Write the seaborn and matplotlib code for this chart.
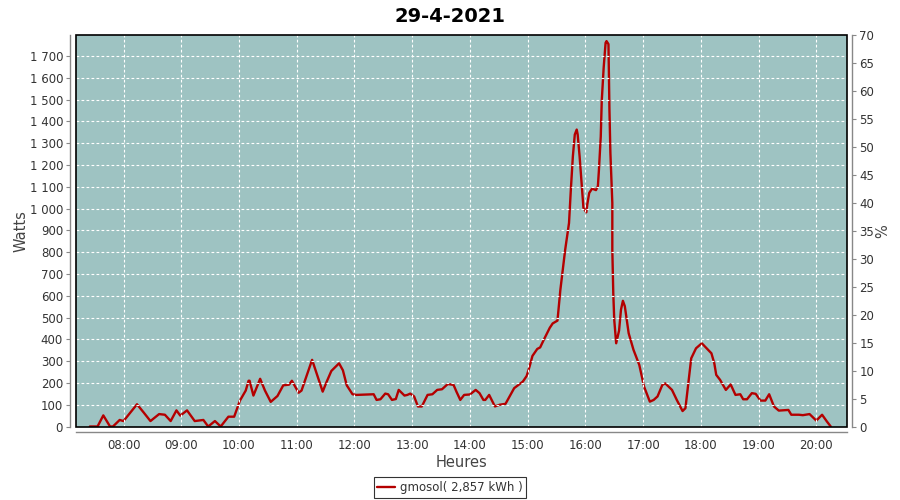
import pandas as pd
import matplotlib
matplotlib.use("Agg")
import matplotlib.pyplot as plt
from matplotlib.patches import Rectangle
import seaborn as sns

# production readings of the day (time, watts)
times = [
    "07:25", "07:33", "07:39", "07:46", "07:49", "07:56", "08:00", "08:14", "08:21", "08:28",
    "08:37", "08:43", "08:49", "08:55", "08:59", "09:06", "09:14", "09:23", "09:28", "09:35",
    "09:41", "09:49", "09:55", "10:01", "10:07", "10:10", "10:11", "10:15", "10:22", "10:27",
    "10:33", "10:40", "10:46", "10:52", "10:55", "11:02", "11:05", "11:16", "11:27", "11:31",
    "11:36", "11:44", "11:48", "11:52", "11:58", "12:02", "12:20", "12:23", "12:27", "12:32",
    "12:35", "12:39", "12:43", "12:46", "12:52", "12:55", "12:58", "13:02", "13:06", "13:10",
    "13:16", "13:21", "13:26", "13:31", "13:37", "13:43", "13:46", "13:50", "13:54", "14:00",
    "14:06", "14:10", "14:14", "14:16", "14:20", "14:26", "14:31", "14:37", "14:46", "14:55",
    "14:59", "15:02", "15:05", "15:10", "15:13", "15:17", "15:23", "15:26", "15:31", "15:34",
    "15:39", "15:43", "15:45", "15:47", "15:49", "15:51", "15:52", "15:54", "15:56", "15:58",
    "16:01", "16:02", "16:04", "16:07", "16:11", "16:13", "16:14", "16:16", "16:17", "16:19",
    "16:21", "16:22", "16:24", "16:25", "16:26", "16:28", "16:28", "16:29", "16:30", "16:32",
    "16:35", "16:37", "16:39", "16:41", "16:45", "16:50", "16:56", "17:01", "17:07", "17:11",
    "17:15", "17:20", "17:23", "17:30", "17:35", "17:41", "17:44", "17:47", "17:50", "17:55",
    "18:01", "18:06", "18:11", "18:14", "18:16", "18:20", "18:26", "18:31", "18:36", "18:41",
    "18:44", "18:48", "18:53", "18:57", "19:02", "19:07", "19:11", "19:16", "19:21", "19:31",
    "19:34", "19:42", "19:46", "19:53", "20:00", "20:06", "20:11", "20:15",
]
watts = [
    0, 0, 51, 0, 0, 30, 25, 102, 64, 25,
    57, 54, 25, 74, 50, 74, 25, 30, 0, 25,
    0, 45, 45, 119, 165, 210, 210, 142, 219, 165,
    113, 140, 189, 192, 210, 155, 165, 306, 160, 204,
    255, 290, 258, 189, 148, 145, 148, 122, 125, 151,
    148, 122, 126, 168, 142, 145, 151, 138, 92, 92,
    145, 148, 168, 171, 195, 191, 160, 122, 145, 147,
    168, 153, 122, 122, 145, 92, 100, 104, 176, 206,
    232, 275, 324, 356, 363, 400, 453, 473, 486, 627,
    811, 934, 1095, 1240, 1340, 1363, 1340, 1240, 1118, 1003,
    983, 1020, 1072, 1092, 1085, 1103, 1171, 1332, 1493, 1646,
    1761, 1769, 1755, 1455, 1256, 1026, 811, 612, 490, 382,
    440, 536, 577, 552, 428, 352, 283, 183, 114, 122,
    138, 191, 198, 168, 122, 71, 84, 198, 313, 359,
    382, 359, 336, 290, 237, 214, 168, 193, 145, 148,
    125, 125, 153, 150, 119, 119, 148, 92, 73, 76,
    54, 54, 52, 57, 27, 54, 23, 0,
]

hour_ticks = list(range(8, 21))
hour_labels = [f"{h:02d}:00" for h in hour_ticks]
watt_ticks = list(range(0, 1800, 100))
watt_labels = [f"{v:,}".replace(",", " ") for v in watt_ticks]
pct_ticks = list(range(0, 75, 5))

df = pd.DataFrame({"time": times, "watts": watts})
hm = df["time"].str.split(":", expand=True).astype(int)
df["hours"] = hm[0] + hm[1] / 60

sns.set_style("white")
plt.rcParams["font.family"] = ["DejaVu Sans"]

fig = plt.figure(figsize=(9, 5), dpi=100)
ax = fig.add_axes([0.084, 0.147, 0.857, 0.783])
ax.set_facecolor("#9ec3c2")

sns.lineplot(data=df, x="hours", y="watts", ax=ax, color="#b40000", linewidth=1.7,
             estimator=None, sort=False, label="gmosol( 2,857 kWh )", legend=False)

ax.set_xlim(7.17, 20.53)
ax.set_ylim(0, 1797)
ax.set_xticks(hour_ticks, hour_labels)
ax.set_yticks(watt_ticks, watt_labels)
ax.grid(True, color="white", linestyle=(0, (2.5, 2)), linewidth=0.8)
ax.set_axisbelow(False)
ax.set_xlabel("Heures", fontsize=10.5, color="#444444", labelpad=2)
ax.set_ylabel("Watts", fontsize=10.5, color="#444444", labelpad=1)

ax2 = ax.twinx()
ax2.set_ylim(0, 70)
ax2.set_yticks(pct_ticks)
ax2.set_ylabel("%", fontsize=10.5, color="#444444", labelpad=1)

for a in (ax, ax2):
    for s in a.spines.values():
        s.set_position(("outward", 4))
        s.set_color("#888888")
        s.set_linewidth(1)
    a.spines["top"].set_visible(False)
    a.tick_params(length=3, width=0.8, color="#888888", labelsize=8.5,
                  labelcolor="#333333", direction="out", pad=2)
ax.spines["right"].set_visible(False)
ax2.spines["left"].set_visible(False)
ax2.spines["bottom"].set_visible(False)

ax.add_patch(Rectangle((0, 0), 1, 1, transform=ax.transAxes, fill=False,
                       edgecolor="black", linewidth=1.2, clip_on=False, zorder=5))

fig.suptitle("29-4-2021", fontsize=14, fontweight="bold", color="black", y=0.985)

h, l = ax.get_legend_handles_labels()
leg = fig.legend(h, l, loc="center", bbox_to_anchor=(0.5, 0.025), fontsize=8.5,
                 frameon=True, fancybox=False, handlelength=1.5, borderpad=0.3,
                 handletextpad=0.4)
leg.get_frame().set_edgecolor("black")
leg.get_frame().set_linewidth(0.8)
for t in leg.get_texts():
    t.set_color("#333333")

fig.savefig("out.png", dpi=100)
